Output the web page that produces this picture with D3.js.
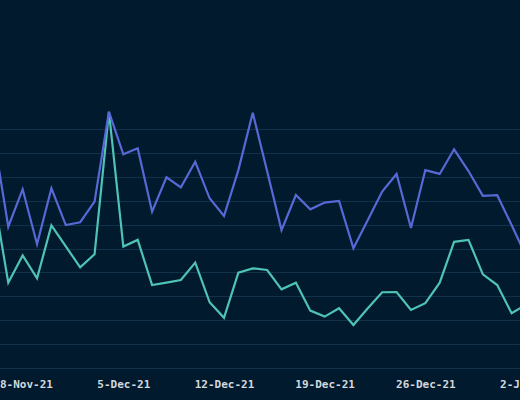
<!DOCTYPE html>
<html>
<head>
<meta charset="utf-8">
<script src="https://cdn.jsdelivr.net/npm/d3@7"></script>
<style>
  html, body { margin: 0; padding: 0; background: #011a2d; }
  svg { display: block; }
  .grid line { stroke: #12314b; stroke-width: 1; }
  .axis text { fill: #d3d8dd; font-family: "DejaVu Sans Mono", monospace; font-size: 11px; font-weight: bold; }
</style>
</head>
<body>
<svg></svg>
<script>
'use strict';

const WIDTH = 520;
const HEIGHT = 400;

// daily dates, 26-Nov-21 .. 2-Jan-22 (first and last sit just outside the frame)
var dates = [
    "2021-11-26", "2021-11-27", "2021-11-28", "2021-11-29", "2021-11-30",
    "2021-12-01", "2021-12-02", "2021-12-03", "2021-12-04", "2021-12-05",
    "2021-12-06", "2021-12-07", "2021-12-08", "2021-12-09", "2021-12-10",
    "2021-12-11", "2021-12-12", "2021-12-13", "2021-12-14", "2021-12-15",
    "2021-12-16", "2021-12-17", "2021-12-18", "2021-12-19", "2021-12-20",
    "2021-12-21", "2021-12-22", "2021-12-23", "2021-12-24", "2021-12-25",
    "2021-12-26", "2021-12-27", "2021-12-28", "2021-12-29", "2021-12-30",
    "2021-12-31", "2022-01-01", "2022-01-02"
];

var seriesBlue = [
    9.62, 5.91, 7.48, 5.18, 7.52, 5.98, 6.10, 6.96, 10.72, 8.94,
    9.19, 6.54, 7.98, 7.56, 8.63, 7.10, 6.36, 8.28, 10.68, 8.23,
    5.77, 7.24, 6.64, 6.92, 6.99, 5.01, 6.19, 7.38, 8.12, 5.86,
    8.28, 8.12, 9.15, 8.24, 7.20, 7.23, 5.98, 4.69
];

var seriesTeal = [
    7.13, 3.57, 4.71, 3.75, 5.97, 5.09, 4.21, 4.76, 10.72, 5.08,
    5.36, 3.47, 3.57, 3.68, 4.41, 2.75, 2.10, 3.99, 4.17, 4.10,
    3.29, 3.57, 2.40, 2.15, 2.50, 1.80, 2.50, 3.17, 3.18, 2.43,
    2.71, 3.57, 5.28, 5.36, 3.92, 3.47, 2.29, 2.65
];

var tickDates = ["2021-11-28", "2021-12-05", "2021-12-12", "2021-12-19", "2021-12-26", "2022-01-02"];
var yTicks = [0, 1, 2, 3, 4, 5, 6, 7, 8, 9, 10];

var parse = d3.utcParse("%Y-%m-%d");
var fmt = d3.utcFormat("%-d-%b-%y");

var svg = d3.select("svg")
    .attr("width", WIDTH)
    .attr("height", HEIGHT);

var x = d3.scaleUtc()
    .domain([parse(dates[0]), parse(dates[dates.length - 1])])
    .range([-6.1, 526.0]);

var y = d3.scaleLinear()
    .domain([0, 10])
    .range([368, 129]);

// horizontal gridlines
svg.append("g")
    .attr("class", "grid")
    .selectAll("line")
    .data(yTicks)
    .enter()
    .append("line")
    .attr("x1", 0)
    .attr("x2", WIDTH)
    .attr("y1", function (d) { return Math.round(y(d)) + 0.5; })
    .attr("y2", function (d) { return Math.round(y(d)) + 0.5; });

// x axis labels only
var xAxis = svg.append("g")
    .attr("class", "axis")
    .attr("transform", "translate(0,372)")
    .call(d3.axisBottom(x)
        .tickValues(tickDates.map(parse))
        .tickFormat(fmt)
        .tickSize(0)
        .tickPadding(8));
xAxis.select(".domain").remove();
xAxis.selectAll("text").attr("font-family", null).attr("font-size", null);

var line = d3.line()
    .x(function (d) { return x(d.date); })
    .y(function (d) { return y(d.value); });

function toPoints(values) {
    return values.map(function (v, i) {
        return {date: parse(dates[i]), value: v};
    });
}

svg.append("path")
    .datum(toPoints(seriesTeal))
    .attr("fill", "none")
    .attr("stroke", "#4fc3b4")
    .attr("stroke-width", 2.2)
    .attr("stroke-linejoin", "miter")
    .attr("d", line);

svg.append("path")
    .datum(toPoints(seriesBlue))
    .attr("fill", "none")
    .attr("stroke", "#5669d6")
    .attr("stroke-width", 2.2)
    .attr("stroke-linejoin", "miter")
    .attr("d", line);
</script>
</body>
</html>
